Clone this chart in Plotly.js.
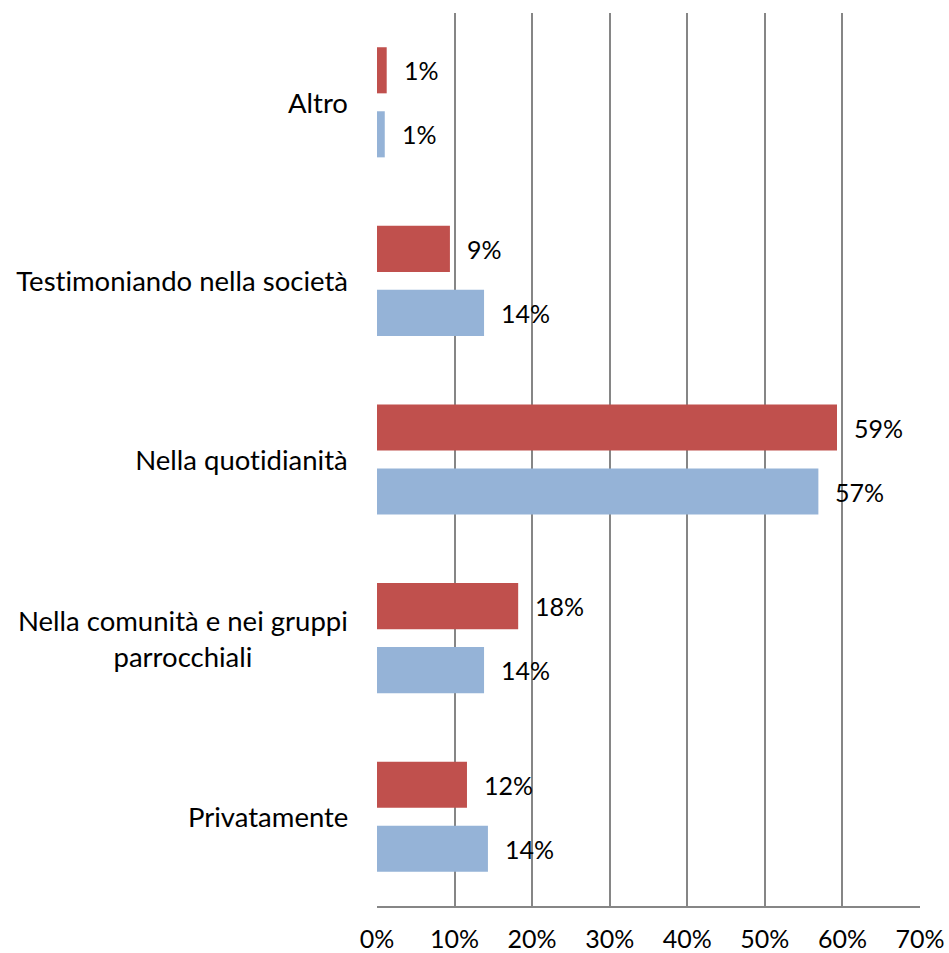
<!DOCTYPE html>
<html>
<head>
<meta charset="utf-8">
<script src="https://cdn.plot.ly/plotly-3.0.1.min.js"></script>
<style>
  html, body { margin: 0; padding: 0; background: #ffffff; }
  #chart { width: 949px; height: 953px; }
  #chart svg text { font-variant-ligatures: none; font-feature-settings: "liga" 0, "clig" 0; }
</style>
</head>
<body>
<div id="chart"></div>
<script>
// Categories (bottom to top)
const categories = [
  "Privatamente",
  "Nella comunità e nei gruppi<br>parrocchiali",
  "Nella quotidianità",
  "Testimoniando nella società",
  "Altro"
];
// Series values (fractions)
const serieRossa = [0.116, 0.182, 0.593, 0.094, 0.0125];
const serieBlu   = [0.143, 0.138, 0.569, 0.138, 0.010];
// X tick values and labels
const tickValues = [0, 0.1, 0.2, 0.3, 0.4, 0.5, 0.6, 0.7];
const tickLabels = ["0%", "10%", "20%", "30%", "40%", "50%", "60%", "70%"];

const FONT = "Lato, 'Liberation Sans', sans-serif";
const FS_CAT = 27.5;
const FS_NUM = 25;
const GRID = "#868686";
const RED = "#C0504D";
const BLUE = "#95B3D7";

const fmt = v => Math.round(v * 100) + "%";

const traces = [
  {
    type: "bar", orientation: "h", name: "Serie 1",
    y: categories, x: serieBlu,
    marker: { color: BLUE },
    hoverinfo: "x+y"
  },
  {
    type: "bar", orientation: "h", name: "Serie 2",
    y: categories, x: serieRossa,
    marker: { color: RED },
    hoverinfo: "x+y"
  }
];

const annotations = [];
categories.forEach((c, i) => {
  annotations.push({
    xref: "x", yref: "y", x: serieRossa[i], y: c,
    text: fmt(serieRossa[i]), showarrow: false,
    xanchor: "left", yanchor: "middle", xshift: 15, yshift: 32,
    font: { family: FONT, size: FS_NUM, color: "#000" }
  });
  annotations.push({
    xref: "x", yref: "y", x: serieBlu[i], y: c,
    text: fmt(serieBlu[i]), showarrow: false,
    xanchor: "left", yanchor: "middle", xshift: 15, yshift: -32,
    font: { family: FONT, size: FS_NUM, color: "#000" }
  });
  annotations.push({
    xref: "paper", yref: "y", x: 0, y: c,
    text: c, showarrow: false, align: "center",
    xanchor: "right", yanchor: "middle", xshift: -27,
    font: { family: FONT, size: FS_CAT, color: "#000" }
  });
});

const layout = {
  width: 949, height: 953,
  margin: { l: 377, r: 29, t: 13, b: 47, pad: 0 },
  paper_bgcolor: "#ffffff", plot_bgcolor: "#ffffff",
  showlegend: false,
  barmode: "group",
  bargap: 0.283,
  bargroupgap: 0.28,
  font: { family: FONT, size: FS_NUM, color: "#000" },
  xaxis: {
    range: [0, 0.7],
    tickvals: tickValues, ticktext: tickLabels,
    showgrid: true, gridcolor: GRID, gridwidth: 2,
    zeroline: false,
    showline: true, linecolor: GRID, linewidth: 2,
    ticks: "", ticklabelstandoff: 10,
    tickfont: { family: FONT, size: FS_NUM, color: "#000" },
    fixedrange: true
  },
  yaxis: {
    type: "category",
    categoryorder: "array", categoryarray: categories,
    showticklabels: false, ticks: "",
    showgrid: false, zeroline: false, showline: false,
    fixedrange: true
  },
  annotations: annotations
};

Plotly.newPlot("chart", traces, layout, { displayModeBar: false, staticPlot: true });
</script>
</body>
</html>
